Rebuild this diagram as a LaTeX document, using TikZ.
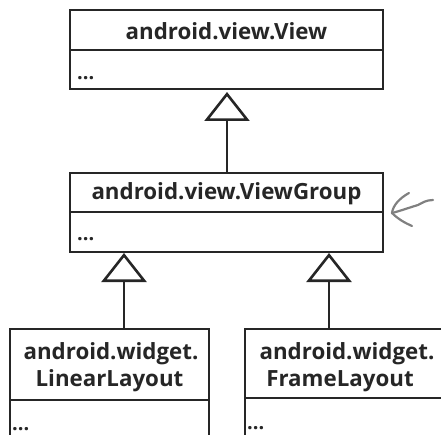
\documentclass[tikz,border=0pt]{standalone}
\usepackage{fontspec}
\setmainfont{Open Sans}
\usetikzlibrary{arrows.meta}
\begin{document}
\begin{tikzpicture}[x=1pt,y=-1pt,
  classbox/.style={draw=black!85, line width=2.6pt, rectangle, inner sep=0pt, outer sep=0pt},
  divider/.style={draw=black!85, line width=2.6pt},
  classname/.style={font=\bfseries\fontsize{22.3}{26}\selectfont, text=black!85, inner sep=0pt, align=center},
  elided/.style={font=\bfseries\fontsize{20}{22}\selectfont, text=black!85, inner sep=0pt, anchor=base west},
  inherit/.style={draw=black!85, line width=2.6pt, -{Triangle[open, length=29pt, width=45pt, line width=2.6pt]}},
  note/.style={draw=black!50, line width=2.2pt, line cap=round, line join=round}]
\useasboundingbox (0,0) rectangle (441,435);
\clip (0,0) rectangle (441,435);
% boxes
\node[classbox, minimum width=313pt, minimum height=79pt] (view) at (226.5,49.5) {};
\node[classbox, minimum width=313pt, minimum height=79pt] (vg) at (226.5,212.5) {};
\node[classbox, minimum width=199pt, minimum height=140pt] (ll) at (109.5,399) {};
\node[classbox, minimum width=230pt, minimum height=140pt] (fl) at (360,399) {};
% dividers
\draw[divider] (70,50) -- (383,50);
\draw[divider] (70,212) -- (383,212);
\draw[divider] (10,400) -- (209,400);
\draw[divider] (245,398) -- (475,398);
% titles
\node[classname] (tview) at (226.5,31) {android.view.View};
\node[classname] (tvg) at (226.5,194) {android.view.ViewGroup};
\node[classname] (tll1) at (111,354) {android.widget.};
\node[classname] (tll2) at (109.5,381) {LinearLayout};
\node[classname] (tfl1) at (347,354) {android.widget.};
\node[classname] (tfl2) at (340,381) {FrameLayout};
% dots
\node[elided] (dview) at (77,80) {...};
\node[elided] (dvg) at (77,241) {...};
\node[elided] (dll) at (12,430) {...};
\node[elided] (dfl) at (247,429) {...};
% inheritance
\coordinate (vgtop) at (227,173);
\coordinate (viewbot) at (227,92);
\coordinate (lltop) at (124,329);
\coordinate (vgbotl) at (124,253);
\coordinate (fltop) at (329,329);
\coordinate (vgbotr) at (329,253);
\draw[inherit] (vgtop) -- (viewbot);
\draw[inherit] (lltop) -- (vgbotl);
\draw[inherit] (fltop) -- (vgbotr);
% hand-drawn arrow
\coordinate (tip) at (392,213);
\draw[note] (433,200) .. controls (426,200) and (422,203) .. (418,205) .. controls (408,208) and (400,211) .. (tip);
\draw[note] (409,193) .. controls (400,198) and (393,205) .. (tip) .. controls (398,219) and (405,223) .. (412,226);
\end{tikzpicture}
\end{document}
